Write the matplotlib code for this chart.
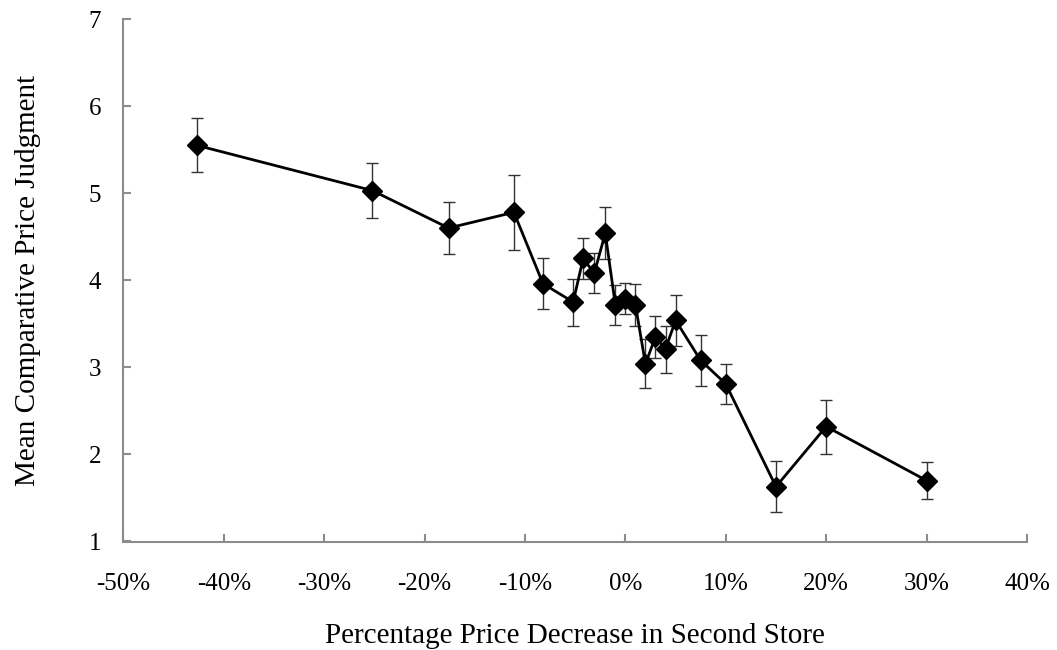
import matplotlib
matplotlib.use("Agg")
import matplotlib.pyplot as plt
from matplotlib.ticker import FuncFormatter

x_pct = [-42.7, -25.2, -17.6, -11.1, -8.2, -5.2, -4.2, -3.1, -2.0, -1.0, 0.0, 1.0, 2.0, 3.0, 4.0, 5.0, 7.5, 10.0, 15.0, 20.0, 30.0]
means = [5.55, 5.03, 4.60, 4.78, 3.96, 3.75, 4.25, 4.08, 4.54, 3.72, 3.79, 3.72, 3.04, 3.35, 3.21, 3.54, 3.08, 2.81, 1.63, 2.32, 1.70]
errs = [0.31, 0.32, 0.30, 0.43, 0.29, 0.27, 0.24, 0.23, 0.30, 0.23, 0.18, 0.24, 0.28, 0.24, 0.27, 0.29, 0.29, 0.23, 0.29, 0.31, 0.21]
x_ticks = [-50, -40, -30, -20, -10, 0, 10, 20, 30, 40]
y_ticks = [1, 2, 3, 4, 5, 6, 7]

W, H = 1057, 650
plt.rcParams['font.family'] = ['Liberation Serif', 'DejaVu Serif']
fig = plt.figure(figsize=(W / 100, H / 100), dpi=100)
left, right, top, bottom = 123.3, 1027, 19, 541.5
ax = fig.add_axes([left / W, 1 - bottom / H, (right - left) / W, (bottom - top) / H])

ax.errorbar(x_pct, means, yerr=errs, fmt='none', ecolor='#333333', elinewidth=1.0, capsize=4.5, capthick=1.0, zorder=2)
ax.plot(x_pct, means, color='black', linewidth=2.0, marker='D', markersize=10, markerfacecolor='black', markeredgecolor='black', zorder=3)

ax.set_xlim(-50, 40)
ax.set_ylim(1, 7)
ax.set_xticks(x_ticks)
ax.set_yticks(y_ticks)
ax.xaxis.set_major_formatter(FuncFormatter(lambda v, p: f"{int(round(v))}%"))
for s in ['top', 'right']:
    ax.spines[s].set_visible(False)
for s in ['left', 'bottom']:
    ax.spines[s].set_color('#8c8c8c')
    ax.spines[s].set_linewidth(1.5)
ax.tick_params(axis='both', direction='in', length=6, width=1.5, color='#8c8c8c', labelsize=18, labelcolor='black')
ax.tick_params(axis='x', pad=23)
ax.tick_params(axis='y', pad=16)

fig.text((left + right) / 2 / W, 1 - 623 / H, 'Percentage Price Decrease in Second Store',
         fontsize=21, ha='center', va='top')
fig.text(28 / W, 1 - (top + bottom) / 2 / H, 'Mean Comparative Price Judgment',
         fontsize=21, ha='center', va='center', rotation=90)

fig.savefig('out.png', dpi=100)
